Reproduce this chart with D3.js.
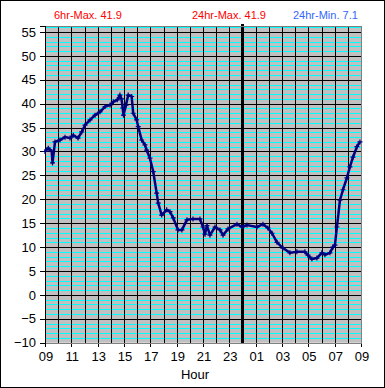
<!DOCTYPE html>
<html>
<head>
<meta charset="utf-8">
<script src="https://cdn.jsdelivr.net/npm/d3@7"></script>
<style>
  body{margin:0;background:#fff}
  svg{display:block;font-family:"Liberation Sans",Arial,sans-serif}
</style>
</head>
<body>
<div id="chart"></div>
<script>
// hours since 09:00 and temperature
const hours = [0.00,0.25,0.51,0.57,0.76,1.14,1.52,1.90,2.15,2.51,2.79,3.04,3.42,3.80,4.18,4.56,4.94,5.19,5.49,5.69,5.81,5.90,5.96,6.15,6.32,6.58,6.70,6.96,7.08,7.34,7.59,7.72,7.97,8.22,8.48,8.60,8.86,9.24,9.49,9.74,10.10,10.40,10.78,11.24,11.77,12.00,12.15,12.30,12.53,12.91,13.29,13.52,13.90,14.58,14.96,15.34,16.10,16.55,16.93,17.24,17.62,18.07,18.60,19.13,19.74,19.97,20.27,20.65,21.03,21.26,21.64,21.87,22.02,22.17,22.40,22.63,22.93,23.16,23.39,23.69,23.92]
const temps = [30.0,30.7,30.0,27.6,32.0,32.4,33.0,32.8,33.4,32.8,34.1,35.5,36.6,37.6,38.3,39.4,39.7,40.4,40.8,41.8,41.0,39.1,37.6,39.7,41.8,41.5,38.0,36.6,35.2,32.4,31.4,30.3,28.6,25.8,21.3,19.2,16.7,17.8,17.4,16.1,13.6,13.6,15.7,15.9,15.9,14.2,12.7,14.5,12.5,14.2,13.6,12.5,13.8,14.8,14.2,14.6,14.2,14.8,14.0,12.9,11.0,9.8,8.8,9.0,9.0,8.3,7.5,7.7,8.8,8.4,8.8,10.0,10.4,14.2,19.8,22.0,24.5,26.8,28.8,31.0,32.0]
const yTicks = [-10,-5,0,5,10,15,20,25,30,35,40,45,50,55]
const xTickHours = [0,2,4,6,8,10,12,14,16,18,20,22,24]
const headers = [
  {text:'6hr-Max. 41.9', color:'#ff0000', x:54},
  {text:'24hr-Max. 41.9', color:'#ff0000', x:192},
  {text:'24hr-Min. 7.1', color:'#3366ff', x:293}
]

const W = 385, H = 388
const svg = d3.select('#chart').append('svg').attr('width', W).attr('height', H)

const x = d3.scaleLinear().domain([0,24]).range([45,361])
const y = d3.scaleLinear().domain([-10,56.25]).range([342.7,26])
const px = v => Math.round(v)+0.5

// plot background
svg.append('rect').attr('x',x(0)).attr('y',y(56.25)).attr('width',x(24)-x(0)).attr('height',y(-10)-y(56.25))
  .attr('fill','#c0c0c0')

// minor cyan lines every degree
const minor = d3.range(-9,57).filter(v=>v%5!==0)
svg.append('g').attr('shape-rendering','crispEdges').selectAll('line').data(minor).enter().append('line')
  .attr('x1',x(0)).attr('x2',x(24)).attr('y1',d=>px(y(d))).attr('y2',d=>px(y(d)))
  .attr('stroke','#00ffff').attr('stroke-width',1)

// major horizontal
svg.append('g').attr('shape-rendering','crispEdges').selectAll('line').data(yTicks).enter().append('line')
  .attr('x1',x(0)-5).attr('x2',x(24)).attr('y1',d=>px(y(d))).attr('y2',d=>px(y(d)))
  .attr('stroke','#000').attr('stroke-width',1)

// vertical hour lines
svg.append('g').attr('shape-rendering','crispEdges').selectAll('line').data(d3.range(0,25)).enter().append('line')
  .attr('x1',d=>px(x(d))).attr('x2',d=>px(x(d)))
  .attr('y1',y(56.25)).attr('y2',d=>xTickHours.includes(d)? y(-10)+4 : y(-10))
  .attr('stroke','#000').attr('stroke-width',1)

// midnight marker
svg.append('line').attr('shape-rendering','crispEdges').attr('x1',x(15)).attr('x2',x(15)).attr('y1',24).attr('y2',y(-10))
  .attr('stroke','#000').attr('stroke-width',3)

// plot frame
svg.append('rect').attr('shape-rendering','crispEdges').attr('x',px(x(0))).attr('y',px(y(56.25))).attr('width',x(24)-x(0)).attr('height',y(-10)-y(56.25))
  .attr('fill','none').attr('stroke','#808080')

// y axis labels
const yAxis = svg.append('g').attr('transform',`translate(${x(0)},0)`)
  .call(d3.axisLeft(y).tickValues(yTicks).tickSize(5).tickPadding(4))
yAxis.select('.domain').attr('stroke','#000').attr('shape-rendering','crispEdges')
yAxis.selectAll('text').attr('font-size',13).attr('fill','#000').attr('font-family','"Liberation Sans",Arial,sans-serif')
yAxis.selectAll('.tick line').remove()

// x labels
svg.append('g').selectAll('text').data(xTickHours).enter().append('text')
  .attr('x',d=>x(d)+1).attr('y',361).attr('text-anchor','middle').attr('font-size',13)
  .text(d=>String((9+d)%24).padStart(2,'0'))
svg.append('text').attr('x',195).attr('y',379).attr('text-anchor','middle').attr('font-size',13).text('Hour')

// data line and markers
const pts = hours.map((h,i)=>[h,temps[i]])
svg.append('path').datum(pts)
  .attr('d',d3.line().x(d=>x(d[0])).y(d=>y(d[1])))
  .attr('fill','none').attr('stroke','#000080').attr('stroke-width',2.5).attr('stroke-linejoin','round')
svg.append('g').selectAll('path').data(pts).enter().append('path')
  .attr('transform',d=>`translate(${x(d[0])},${y(d[1])})`)
  .attr('d','M-2.5,0H2.5M0,-2.5V2.5').attr('stroke','#000080').attr('stroke-width',1.2)

// header stats
svg.append('g').selectAll('text').data(headers).enter().append('text')
  .attr('x',d=>d.x).attr('y',19).attr('font-size',11).attr('fill',d=>d.color).text(d=>d.text)

// outer border
svg.append('rect').attr('x',0.5).attr('y',0.5).attr('width',W-1).attr('height',H-1)
  .attr('fill','none').attr('stroke','#000')
</script>
</body>
</html>
